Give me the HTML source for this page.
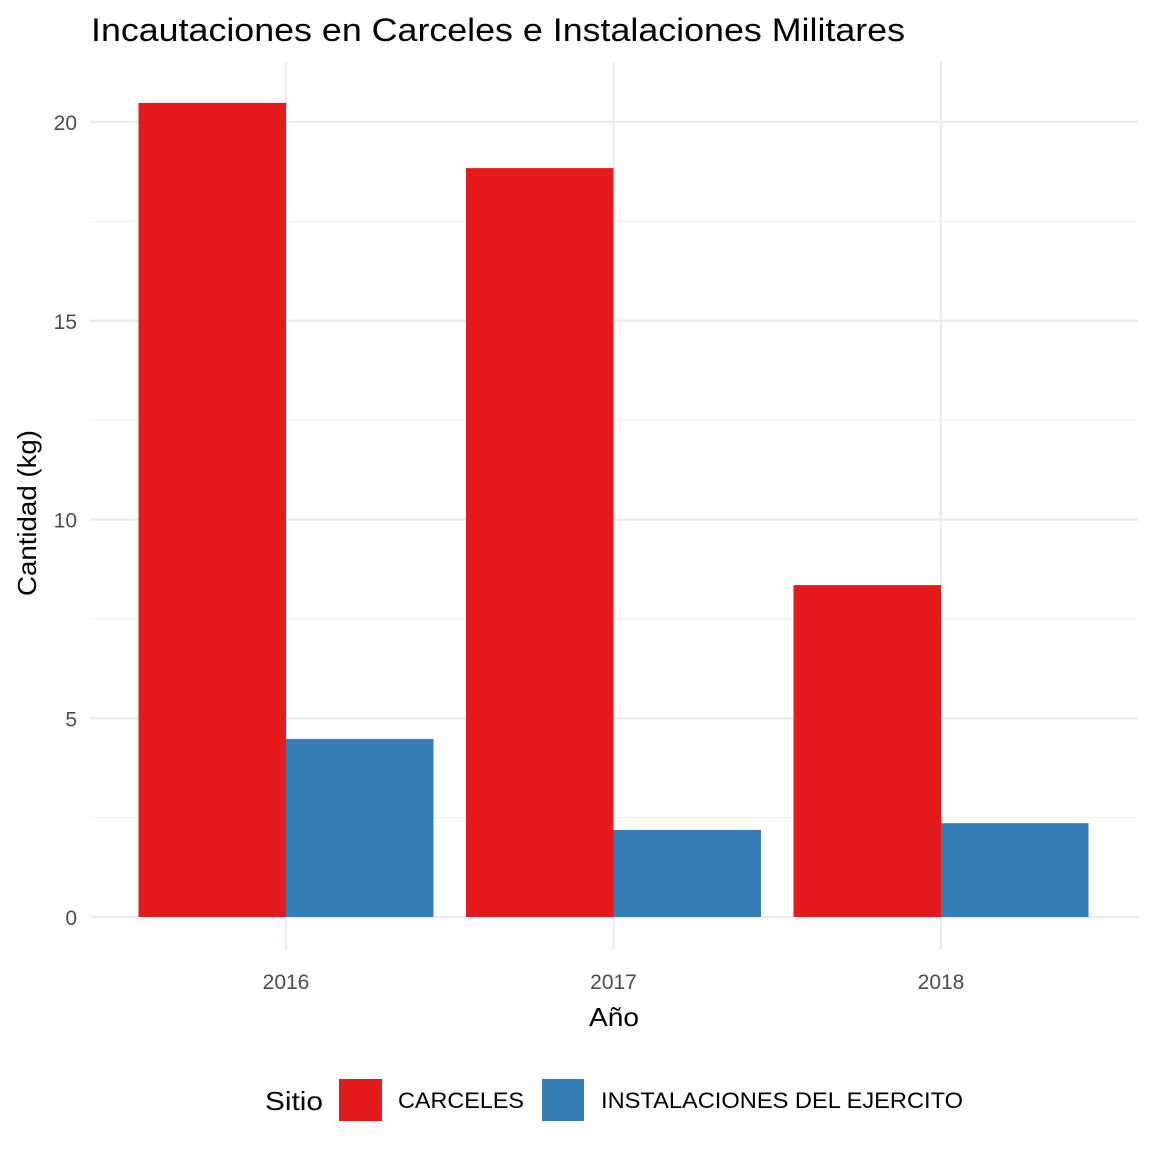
<!DOCTYPE html>
<html><head><meta charset="utf-8"><style>
body{margin:0;background:#fff;}
svg text{font-family:"Liberation Sans",sans-serif;}
</style></head><body>
<svg id="chart" width="1152" height="1152" viewBox="0 0 1152 1152">
<rect width="1152" height="1152" fill="#fff"/>
<text x="91" y="41" font-size="32" fill="#000" textLength="814" lengthAdjust="spacingAndGlyphs">Incautaciones en Carceles e Instalaciones Militares</text>
<g id="grid"></g>
<g id="bars"></g>
<g id="axes"></g>
<text x="614" y="1026" font-size="26" text-anchor="middle" fill="#000" textLength="50" lengthAdjust="spacingAndGlyphs">Año</text>
<text transform="translate(36,513) rotate(-90)" font-size="26" text-anchor="middle" fill="#000" textLength="166" lengthAdjust="spacingAndGlyphs">Cantidad (kg)</text>
<g>
<text x="265" y="1110" font-size="26" fill="#000" textLength="58" lengthAdjust="spacingAndGlyphs">Sitio</text>
<g><rect x="339" y="1079" width="43" height="42" fill="#E41A1C"/><text x="398" y="1108" font-size="22" fill="#000" textLength="126" lengthAdjust="spacingAndGlyphs">CARCELES</text></g>
<g><rect x="542" y="1079" width="42" height="42" fill="#377EB8"/><text x="601" y="1108" font-size="22" fill="#000" textLength="362" lengthAdjust="spacingAndGlyphs">INSTALACIONES DEL EJERCITO</text></g>
</g>
</svg>
<script>
const categories=["2016","2017","2018"];
const carceles=[20.48,18.84,8.35];
const instalaciones=[4.48,2.19,2.36];
const yTicks=[0,5,10,15,20];
const ns="http://www.w3.org/2000/svg";
const px0=90,px1=1138,py0=62,py1=950;
function y(v){return 917-v*39.75;}
function x(i){return 286+i*327.5;}
const bw=147.5;
const grid=document.getElementById('grid'),bars=document.getElementById('bars'),axes=document.getElementById('axes');
function mk(tag,attrs,parent){const e=document.createElementNS(ns,tag);for(const k in attrs)e.setAttribute(k,attrs[k]);parent.appendChild(e);return e;}
for(let i=0;i<yTicks.length;i++){
 const v=yTicks[i];
 const l=mk('line',{x1:px0,x2:px1,y1:y(v),y2:y(v),stroke:'#EBEBEB','stroke-width':2.2},grid);
 
 
 if(i<yTicks.length-1){const m=mk('line',{x1:px0,x2:px1,y1:y(v+2.5),y2:y(v+2.5),stroke:'#F0F0F0','stroke-width':1.1},grid);
 
 }
 const t=mk('text',{x:77,y:y(v)+8,'font-size':21,'text-anchor':'end',fill:'#4D4D4D'},axes);
 t.textContent=v;
 
 
}
for(let i=0;i<categories.length;i++){
 const l=mk('line',{x1:x(i),x2:x(i),y1:py0,y2:py1,stroke:'#EBEBEB','stroke-width':2.2},grid);
 
 
 const t=mk('text',{x:x(i),y:989,'font-size':21,'text-anchor':'middle',fill:'#4D4D4D'},axes);
 t.textContent=categories[i];
 
 
 const b1=mk('rect',{x:x(i)-bw,y:y(carceles[i]),width:bw,height:y(0)-y(carceles[i]),fill:'#E41A1C'},bars);
 
 
 const b2=mk('rect',{x:x(i),y:y(instalaciones[i]),width:bw,height:y(0)-y(instalaciones[i]),fill:'#377EB8'},bars);
 
 
}
</script>
</body></html>
